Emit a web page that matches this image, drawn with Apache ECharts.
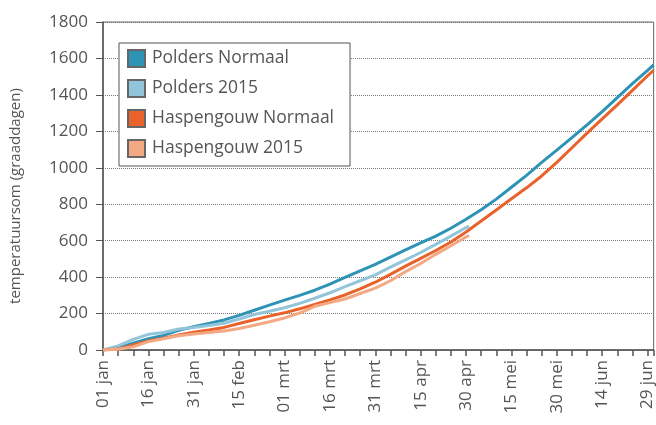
<!DOCTYPE html>
<html lang="nl">
<head>
<meta charset="UTF-8" />
<script src="https://cdn.jsdelivr.net/npm/echarts@6/dist/echarts.min.js"></script>
<style>
  html, body { margin: 0; padding: 0; background: #fff; }
  #main { width: 656px; height: 425px; }
</style>
</head>
<body>
<div id="main"></div>
<script>
// dagen sinds 01 jan (schrikkeljaar-telling), labels om de 15 dagen
var tickLabels = ['01 jan', '16 jan', '31 jan', '15 feb', '01 mrt', '16 mrt', '31 mrt',
                  '15 apr', '30 apr', '15 mei', '30 mei', '14 jun', '29 jun'];

// normaal: dag 0..180 per 5 dagen + eindpunt 182
var daysNormaal = [0, 5, 10, 15, 20, 25, 30, 35, 40, 45, 50, 55, 60, 65, 70, 75, 80, 85, 90,
                   95, 100, 105, 110, 115, 120, 125, 130, 135, 140, 145, 150, 155, 160, 165,
                   170, 175, 180, 182];
var poldersNormaal = [0, 12, 38, 62, 80, 108, 128, 146, 165, 190, 218, 246, 274, 300, 328, 362,
                      398, 434, 470, 510, 550, 588, 625, 668, 718, 770, 828, 893, 958, 1030,
                      1097, 1165, 1235, 1308, 1385, 1462, 1535, 1565];
var haspNormaal = [0, 5, 28, 50, 65, 82, 98, 110, 124, 145, 166, 186, 204, 226, 250, 275, 302,
                   336, 372, 415, 460, 503, 546, 593, 648, 708, 768, 830, 890, 955, 1030, 1110,
                   1190, 1268, 1345, 1425, 1505, 1535];

// 2015: dag 0..120 per 5 dagen + 121
var days2015 = [0, 5, 10, 15, 20, 25, 30, 35, 40, 45, 50, 55, 60, 65, 70, 75, 80, 85, 90, 95,
                100, 105, 110, 115, 120, 121];
var polders2015 = [0, 22, 58, 86, 96, 115, 124, 134, 147, 170, 195, 213, 232, 256, 284, 314,
                   348, 380, 412, 455, 495, 535, 580, 625, 672, 680];
var hasp2015 = [0, 4, 18, 46, 62, 78, 88, 96, 104, 118, 136, 155, 176, 203, 240, 260, 280, 310,
                340, 380, 430, 475, 525, 572, 620, 628];

function pairs(xs, ys) {
  return xs.map(function (x, i) { return [x, ys[i]]; });
}

var myChart = echarts.init(document.getElementById('main'));
var font = '"Open Sans", sans-serif';

myChart.setOption({
  animation: false,
  textStyle: { fontFamily: font },
  grid: {
    left: 97, right: 1, top: 22, bottom: 75,
    show: true, borderColor: '#666', borderWidth: 1
  },
  legend: {
    left: 119, top: 43,
    orient: 'vertical',
    backgroundColor: '#fff',
    borderColor: '#555',
    borderWidth: 1,
    padding: [6, 16, 8, 8],
    itemWidth: 17, itemHeight: 17, itemGap: 11,
    icon: 'rect',
    textStyle: { fontSize: 17.5, color: '#555', fontFamily: font, padding: [0, 0, 0, 2] },
    data: ['Polders Normaal', 'Polders 2015', 'Haspengouw Normaal', 'Haspengouw 2015']
  },
  xAxis: {
    type: 'value',
    min: 0, max: 182, interval: 5,
    axisLine: { show: true, lineStyle: { color: '#555', width: 1.5 } },
    axisTick: { show: true, length: 6, lineStyle: { color: '#555', width: 1.5 } },
    splitLine: { show: false },
    axisLabel: {
      rotate: 90, fontSize: 17, color: '#555', margin: 10,
      formatter: function (v) { return v % 15 === 0 ? tickLabels[v / 15] : ''; }
    }
  },
  yAxis: {
    type: 'value',
    min: 0, max: 1800, interval: 200,
    name: 'temperatuursom (graaddagen)',
    nameLocation: 'middle', nameGap: 80,
    nameTextStyle: {
      fontSize: 15, color: '#555', padding: [0, 20, 0, 0],
      fontFamily: '"Liberation Sans Narrow", "Open Sans", sans-serif'
    },
    axisLine: { show: true, lineStyle: { color: '#555', width: 1.5 } },
    axisTick: { show: true, length: 7, lineStyle: { color: '#555' } },
    axisLabel: { fontSize: 17, color: '#555', margin: 15, formatter: function (v) { return String(v); } },
    splitLine: { show: true, lineStyle: { color: '#777', type: 'dotted', width: 1 } }
  },
  series: [
    {
      name: 'Polders Normaal', type: 'line', showSymbol: false,
      itemStyle: { color: '#2e93b5', borderColor: '#666', borderWidth: 1 },
      lineStyle: { color: '#2e93b5', width: 3 },
      data: pairs(daysNormaal, poldersNormaal)
    },
    {
      name: 'Polders 2015', type: 'line', showSymbol: false,
      itemStyle: { color: '#93c5da', borderColor: '#666', borderWidth: 1 },
      lineStyle: { color: '#93c5da', width: 3 },
      data: pairs(days2015, polders2015)
    },
    {
      name: 'Haspengouw Normaal', type: 'line', showSymbol: false,
      itemStyle: { color: '#e8622a', borderColor: '#666', borderWidth: 1 },
      lineStyle: { color: '#e8622a', width: 3 },
      data: pairs(daysNormaal, haspNormaal)
    },
    {
      name: 'Haspengouw 2015', type: 'line', showSymbol: false,
      itemStyle: { color: '#f3a984', borderColor: '#666', borderWidth: 1 },
      lineStyle: { color: '#f3a984', width: 3 },
      data: pairs(days2015, hasp2015)
    }
  ]
});
</script>
</body>
</html>
